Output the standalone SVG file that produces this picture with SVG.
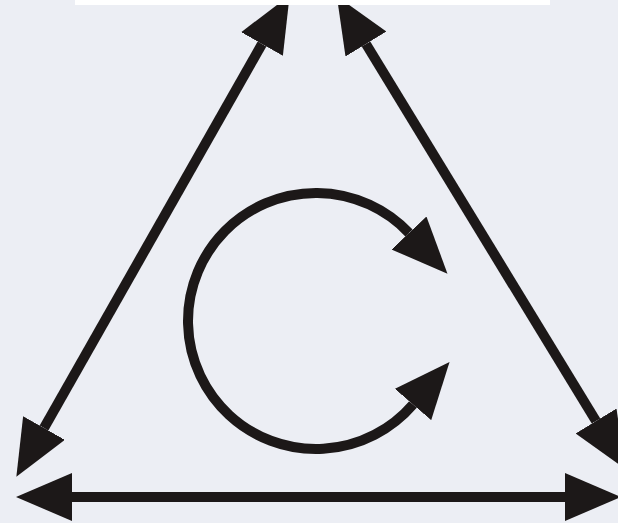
<svg xmlns="http://www.w3.org/2000/svg" width="618" height="523" viewBox="0 0 618 523">
  <defs>
    <style>
      .arrow { fill: none; stroke: #1c1818; stroke-width: 10; stroke-linecap: butt; marker-start: url(#head); marker-end: url(#head); }
    </style>
    <marker id="head" viewBox="0 0 56 48" refX="0" refY="24" markerWidth="56" markerHeight="48" markerUnits="userSpaceOnUse" orient="auto-start-reverse">
      <path d="M0,0 L56,24 L0,48 Z" fill="#1c1818"/>
    </marker>
  </defs>
  <rect x="0" y="0" width="618" height="523" fill="#eceef4"/>
  <g id="connectors">
    <line id="left-side" class="arrow" x1="262" y1="44" x2="44" y2="428"/>
    <line id="right-side" class="arrow" x1="366" y1="44" x2="596" y2="421"/>
    <line id="bottom-side" class="arrow" x1="72" y1="497" x2="565" y2="497"/>
    <path id="cycle" class="arrow" d="M409,233 A128,128 0 1 0 413,404.5"/>
  </g>
  <rect x="75" y="0" width="475" height="5" fill="#ffffff"/>
</svg>
